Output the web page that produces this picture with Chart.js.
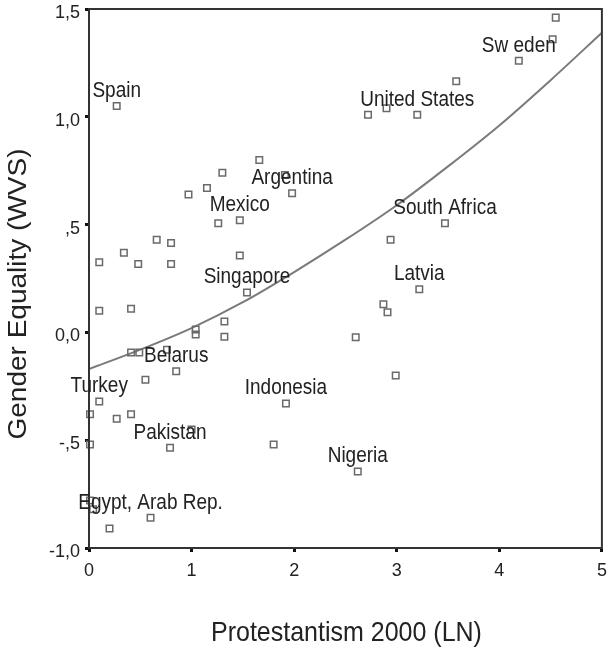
<!DOCTYPE html>
<html>
<head>
<meta charset="utf-8">
<script src="https://cdn.jsdelivr.net/npm/chart.js@4.4.1/dist/chart.umd.min.js"></script>
<style>
  html, body { margin: 0; padding: 0; background: #fff; }
  canvas { display: block; }
</style>
</head>
<body>
<canvas id="chart" width="608" height="648"></canvas>
<script>
// Protestantism 2000 (LN) per country
const countryX = [
  4.55, 4.52, 4.19, 3.58, 2.72, 2.90, 3.20,
  0.27,
  1.66, 1.30, 1.91, 1.15, 0.97, 1.98,
  1.26, 1.47, 1.47, 1.54,
  0.66, 0.80, 0.34, 0.10, 0.48, 0.80, 0.10, 0.41, 1.04, 1.04, 1.32, 1.32, 0.41, 0.49, 0.76, 0.85, 0.55,
  3.47, 2.94, 3.22, 2.87, 2.91, 2.60, 2.99,
  0.10, 1.92, 0.01, 0.27, 0.41, 1.00, 0.01, 0.79, 1.80, 2.62, 0.01, 0.04, 0.60, 0.20
];
// Gender Equality (WVS) per country
const countryY = [
  1.46, 1.36, 1.26, 1.165, 1.01, 1.04, 1.01,
  1.05,
  0.80, 0.74, 0.73, 0.67, 0.64, 0.645,
  0.506, 0.52, 0.357, 0.185,
  0.43, 0.415, 0.37, 0.325, 0.317, 0.317, 0.10, 0.11, 0.014, -0.01, 0.05, -0.02, -0.093, -0.093, -0.08, -0.18, -0.22,
  0.506, 0.43, 0.20, 0.13, 0.093, -0.023, -0.20,
  -0.32, -0.33, -0.38, -0.40, -0.38, -0.45, -0.52, -0.535, -0.52, -0.645, -0.78, -0.82, -0.86, -0.91
];
// Case labels ('' = unlabelled point)
const countryNames = [
  '', '', 'Sw eden', '', '', '', 'United States',
  'Spain',
  '', '', '', '', '', 'Argentina',
  '', 'Mexico', '', 'Singapore',
  '', '', '', '', '', '', '', '', '', '', '', '', '', '', '', 'Belarus', '',
  'South Africa', '', 'Latvia', '', '', '', '',
  'Turkey', 'Indonesia', '', '', '', '', '', 'Pakistan', '', 'Nigeria', '', '', 'Egypt, Arab Rep.', ''
];

// Fitted curve
const fitX = [0, 0.5, 1, 1.5, 2, 2.5, 3, 3.5, 4, 4.5, 5];
const fitY = [-0.17, -0.08, 0.02, 0.14, 0.28, 0.43, 0.59, 0.77, 0.96, 1.17, 1.39];

// Axis ticks
const xTickValues = [0, 1, 2, 3, 4, 5];
const xTickLabels = ['0', '1', '2', '3', '4', '5'];
const yTickValues = [-1, -0.5, 0, 0.5, 1, 1.5];
const yTickLabels = ['-1,0', '-,5', '0,0', ',5', '1,0', '1,5'];

const xTitle = 'Protestantism 2000 (LN)';
const yTitle = 'Gender Equality (WVS)';

const FONT = '"Liberation Sans", Arial, Helvetica, sans-serif';
const TEXT_STRETCH = 1.12; // the chart's lettering is taller than it is wide

function tickText(values, labels) {
  return function (value) {
    const i = values.findIndex(v => Math.abs(v - value) < 1e-9);
    return i >= 0 ? labels[i] : '';
  };
}

const scatterPoints = countryX.map((x, i) => ({ x, y: countryY[i] }));
const curvePoints = fitX.map((x, i) => ({ x, y: fitY[i] }));

// Draws one line of text, stretched along the screen's vertical direction
function tallText(ctx, text, x, y, rotation, baseline) {
  ctx.save();
  ctx.translate(x, y);
  ctx.rotate(rotation);
  if (rotation === 0) ctx.scale(1, TEXT_STRETCH);
  else ctx.scale(TEXT_STRETCH, 1);
  ctx.textAlign = 'center';
  ctx.textBaseline = baseline;
  ctx.fillText(text, 0, 0);
  ctx.restore();
}

// Frame around the plot area, the axis titles and the case labels
const frameAndLabels = {
  id: 'frameAndLabels',
  afterDatasetsDraw(chart) {
    const { ctx, chartArea: a, scales } = chart;
    ctx.save();
    ctx.strokeStyle = '#333';
    ctx.lineWidth = 2;
    ctx.strokeRect(a.left, a.top, a.right - a.left, a.bottom - a.top);

    ctx.fillStyle = '#222';
    ctx.font = '19px ' + FONT;
    countryNames.forEach((name, i) => {
      if (!name) return;
      const px = scales.x.getPixelForValue(countryX[i]);
      const py = scales.y.getPixelForValue(countryY[i]);
      tallText(ctx, name, px, py - 15, 0, 'middle');
    });

    ctx.font = '25px ' + FONT;
    tallText(ctx, xTitle, (a.left + a.right) / 2 + 1, 641, 0, 'alphabetic');
    tallText(ctx, yTitle, 26, 294, -Math.PI / 2, 'alphabetic');
    ctx.restore();
  }
};

function noScalePadding(s) {
  s.paddingTop = 0; s.paddingBottom = 0; s.paddingLeft = 0; s.paddingRight = 0;
}

new Chart(document.getElementById('chart'), {
  type: 'scatter',
  data: {
    datasets: [
      {
        data: scatterPoints,
        pointStyle: 'rect',
        pointRadius: 4.6,
        pointBorderWidth: 1.5,
        pointBorderColor: '#6a6a6a',
        pointBackgroundColor: 'rgba(255,255,255,0)',
        showLine: false,
        clip: false
      },
      {
        data: curvePoints,
        showLine: true,
        pointRadius: 0,
        borderColor: '#7a7a7a',
        borderWidth: 2,
        cubicInterpolationMode: 'monotone',
        fill: false
      }
    ]
  },
  options: {
    responsive: false,
    animation: false,
    events: [],
    layout: { padding: { top: 9, right: 4, left: 0, bottom: 0 } },
    plugins: {
      legend: { display: false },
      tooltip: { enabled: false }
    },
    scales: {
      x: {
        type: 'linear',
        min: 0,
        max: 5,
        afterFit(s) { s.height = 100; noScalePadding(s); },
        border: { display: false },
        grid: { drawOnChartArea: false, drawTicks: true, tickLength: 4, tickWidth: 3, tickColor: '#111' },
        ticks: {
          stepSize: 1,
          padding: 8,
          color: '#222',
          font: { family: FONT, size: 18 },
          callback: tickText(xTickValues, xTickLabels)
        },
        title: { display: false }
      },
      y: {
        type: 'linear',
        min: -1,
        max: 1.5,
        afterFit(s) { s.width = 89; noScalePadding(s); },
        border: { display: false },
        grid: { drawOnChartArea: false, drawTicks: true, tickLength: 4, tickWidth: 3, tickColor: '#111' },
        ticks: {
          stepSize: 0.5,
          padding: 5,
          labelOffset: 4,
          color: '#222',
          font: { family: FONT, size: 18 },
          callback: tickText(yTickValues, yTickLabels)
        },
        title: { display: false }
      }
    }
  },
  plugins: [frameAndLabels]
});
</script>
</body>
</html>
